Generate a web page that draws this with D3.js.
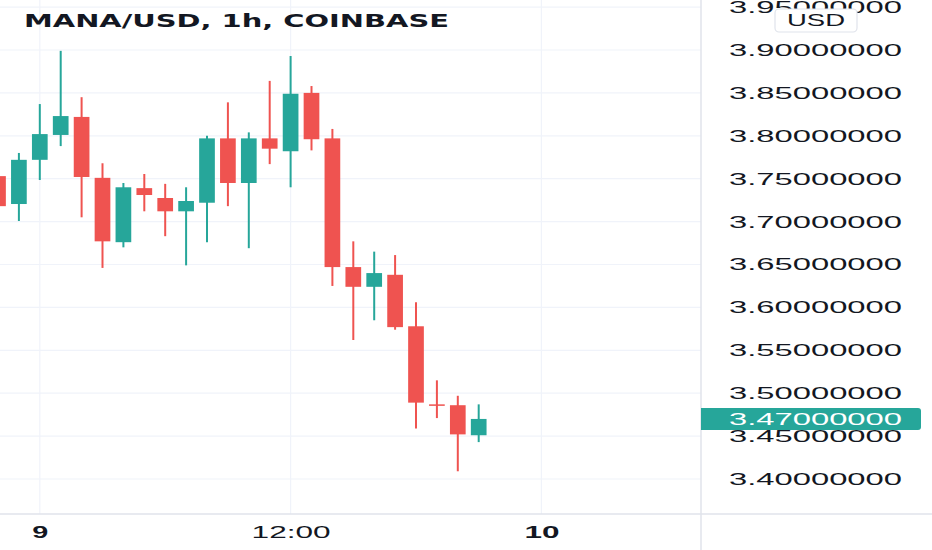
<!DOCTYPE html>
<html>
<head>
<meta charset="utf-8">
<script src="https://cdn.jsdelivr.net/npm/d3@7"></script>
<style>
  body { margin: 0; background: #fff; }
  svg { display: block; }
</style>
</head>
<body>
<div id="chart"></div>
<script>
// hourly candles, MANA/USD on Coinbase
var times = ["2021-12-08T22:00Z","2021-12-08T23:00Z","2021-12-09T00:00Z","2021-12-09T01:00Z",
             "2021-12-09T02:00Z","2021-12-09T03:00Z","2021-12-09T04:00Z","2021-12-09T05:00Z",
             "2021-12-09T06:00Z","2021-12-09T07:00Z","2021-12-09T08:00Z","2021-12-09T09:00Z",
             "2021-12-09T10:00Z","2021-12-09T11:00Z","2021-12-09T12:00Z","2021-12-09T13:00Z",
             "2021-12-09T14:00Z","2021-12-09T15:00Z","2021-12-09T16:00Z","2021-12-09T17:00Z",
             "2021-12-09T18:00Z","2021-12-09T19:00Z","2021-12-09T20:00Z","2021-12-09T21:00Z"];
var opens  = [3.753, 3.7205, 3.772, 3.801, 3.822, 3.751, 3.676, 3.739, 3.7275, 3.712, 3.722, 3.797,
              3.745, 3.797, 3.782, 3.850, 3.797, 3.647, 3.624, 3.638, 3.578, 3.487, 3.486, 3.451];
var highs  = [3.753, 3.780, 3.837, 3.899, 3.845, 3.768, 3.745, 3.7555, 3.744, 3.740, 3.800, 3.839,
              3.804, 3.864, 3.893, 3.858, 3.808, 3.677, 3.665, 3.661, 3.606, 3.515, 3.497, 3.487];
var lows   = [3.718, 3.7007, 3.7485, 3.788, 3.705, 3.646, 3.670, 3.712, 3.683, 3.649, 3.676, 3.718,
              3.669, 3.767, 3.740, 3.783, 3.625, 3.562, 3.585, 3.574, 3.459, 3.471, 3.409, 3.443];
var closes = [3.718, 3.772, 3.802, 3.823, 3.752, 3.677, 3.740, 3.731, 3.712, 3.724, 3.797, 3.745,
              3.797, 3.785, 3.849, 3.796, 3.647, 3.624, 3.640, 3.577, 3.489, 3.486, 3.452, 3.470];

var priceTicks = [3.40, 3.45, 3.50, 3.55, 3.60, 3.65, 3.70, 3.75, 3.80, 3.85, 3.90, 3.95];
var timeTicks = ["2021-12-09T00:00Z", "2021-12-09T12:00Z", "2021-12-10T00:00Z"];
var timeLabels = ["9", "12:00", "10"];
var lastPrice = 3.47;

var W = 932, H = 550;
var plotRight = 701, plotBottom = 514;
var up = "#26a69a", down = "#ef5350";

var svg = d3.select("#chart").append("svg")
    .attr("width", W)
    .attr("height", H);

var x = d3.scaleUtc()
    .domain([new Date(timeTicks[0]), new Date(timeTicks[2])])
    .range([39.8, 541.4]);

var y = d3.scaleLinear()
    .domain([3.40, 3.90])
    .range([479, 50]);

var candles = times.map(function(t, i) {
  return { t: new Date(t), o: opens[i], h: highs[i], l: lows[i], c: closes[i] };
});

// grid
var grid = svg.append("g");
grid.selectAll("line.h")
  .data(priceTicks)
  .enter().append("line")
    .attr("class", "h")
    .attr("x1", 0).attr("x2", plotRight)
    .attr("y1", function(d) { return y(d); })
    .attr("y2", function(d) { return y(d); })
    .attr("stroke", "#f0f3fa")
    .attr("stroke-width", 1.2);
grid.selectAll("line.v")
  .data(timeTicks)
  .enter().append("line")
    .attr("class", "v")
    .attr("x1", function(d) { return x(new Date(d)); })
    .attr("x2", function(d) { return x(new Date(d)); })
    .attr("y1", 0).attr("y2", plotBottom)
    .attr("stroke", "#f0f3fa")
    .attr("stroke-width", 1.2);

// candles
var plot = svg.append("g");
var bodyW = 15.7;

plot.selectAll("line.wick")
  .data(candles)
  .enter().append("line")
    .attr("class", "wick")
    .attr("x1", function(d) { return x(d.t); })
    .attr("x2", function(d) { return x(d.t); })
    .attr("y1", function(d) { return y(d.h); })
    .attr("y2", function(d) { return y(d.l); })
    .attr("stroke", function(d) { return d.c >= d.o ? up : down; })
    .attr("stroke-width", 2);

plot.selectAll("rect.body")
  .data(candles)
  .enter().append("rect")
    .attr("class", "body")
    .attr("x", function(d) { return x(d.t) - bodyW / 2; })
    .attr("y", function(d) { return y(Math.max(d.o, d.c)); })
    .attr("width", bodyW)
    .attr("height", function(d) { return Math.max(1.5, Math.abs(y(d.o) - y(d.c))); })
    .attr("fill", function(d) { return d.c >= d.o ? up : down; });

// title
svg.append("text")
    .attr("x", 24)
    .attr("y", 27)
    .attr("font-family", "'DejaVu Sans', sans-serif")
    .attr("font-weight", "bold")
    .attr("font-size", 17)
    .attr("fill", "#131722")
    .attr("textLength", 425)
    .attr("lengthAdjust", "spacingAndGlyphs")
    .text("MANA/USD, 1h, COINBASE");

// axis borders
svg.append("line")
    .attr("x1", plotRight).attr("x2", plotRight)
    .attr("y1", 0).attr("y2", H)
    .attr("stroke", "#e0e3eb").attr("stroke-width", 1.5);
svg.append("line")
    .attr("x1", 0).attr("x2", W)
    .attr("y1", plotBottom).attr("y2", plotBottom)
    .attr("stroke", "#e0e3eb").attr("stroke-width", 1.5);

// price axis
var yAxis = svg.append("g")
    .attr("transform", "translate(" + plotRight + ",0)")
    .call(d3.axisRight(y).tickValues(priceTicks).tickSize(0).tickPadding(28)
      .tickFormat(d3.format(".8f")));
yAxis.select(".domain").remove();
yAxis.selectAll("text")
    .attr("font-family", "'Liberation Sans', Arial, sans-serif")
    .attr("font-size", 17)
    .attr("fill", "#131722")
    .attr("textLength", 173)
    .attr("lengthAdjust", "spacingAndGlyphs");

// last price tag
var tag = svg.append("g").attr("transform", "translate(" + plotRight + "," + y(lastPrice) + ")");
tag.append("path")
    .attr("d", "M0,-11 H217 Q220,-11 220,-8 V8 Q220,11 217,11 H0 Z")
    .attr("fill", up);
tag.append("text")
    .attr("x", 28)
    .attr("dy", "0.35em")
    .attr("font-family", "'Liberation Sans', Arial, sans-serif")
    .attr("font-size", 17)
    .attr("fill", "#fff")
    .attr("textLength", 173)
    .attr("lengthAdjust", "spacingAndGlyphs")
    .text(d3.format(".8f")(lastPrice));

// currency box
svg.append("rect")
    .attr("x", 775).attr("y", 9)
    .attr("width", 82).attr("height", 23)
    .attr("rx", 4)
    .attr("fill", "#fff")
    .attr("stroke", "#e0e3eb")
    .attr("stroke-width", 1.2);
svg.append("text")
    .attr("x", 816).attr("y", 26)
    .attr("text-anchor", "middle")
    .attr("font-family", "'Liberation Sans', Arial, sans-serif")
    .attr("font-size", 17)
    .attr("fill", "#131722")
    .attr("textLength", 58)
    .attr("lengthAdjust", "spacingAndGlyphs")
    .text("USD");

// time axis
var xAxis = svg.append("g")
    .attr("transform", "translate(0," + plotBottom + ")")
    .call(d3.axisBottom(x)
      .tickValues(timeTicks.map(function(d) { return new Date(d); }))
      .tickSize(0).tickPadding(13)
      .tickFormat(function(d, i) { return timeLabels[i]; }));
xAxis.select(".domain").remove();
xAxis.selectAll("text")
    .attr("font-family", "'Liberation Sans', Arial, sans-serif")
    .attr("font-size", 16)
    .attr("fill", "#131722")
    .attr("font-weight", function(d, i) { return timeLabels[i] === "12:00" ? "normal" : "bold"; })
    .attr("textLength", function(d, i) { return [16, 79, 35][i]; })
    .attr("lengthAdjust", "spacingAndGlyphs");
</script>
</body>
</html>
